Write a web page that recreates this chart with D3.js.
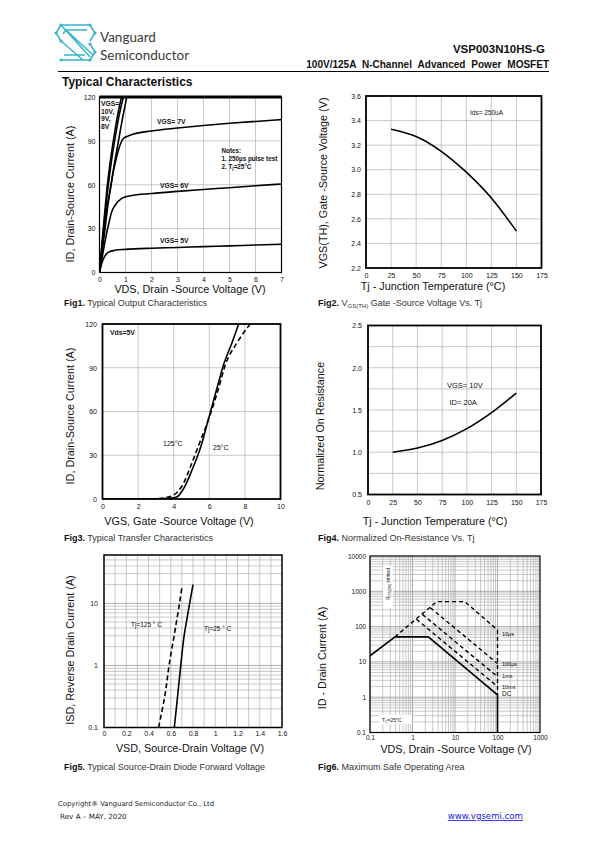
<!DOCTYPE html>
<html><head><meta charset="utf-8">
<script src="https://cdn.jsdelivr.net/npm/d3@7"></script>
<style>
body{margin:0;background:#fff;}
svg{display:block;}
</style></head><body>
<svg id="page" width="595" height="842"></svg>
<script>
// ================= DATA =================
// Fig1 – Typical Output Characteristics
const fig1XTicks = [0,1,2,3,4,5,6,7];
const fig1YTicks = [0,30,60,90,120];
const fig1XGrid = [1,2,3,4,5,6];
const fig1YGrid = [30,60,90];
const fig1Vgs10V = [0,0.1,0.2,0.28,0.4,0.55,0.7,0.85];
const fig1Vgs10I = [0,21,41,56,74,92,108,120];
const fig1Vgs9V  = [0,0.1,0.2,0.3,0.45,0.6,0.75,0.92];
const fig1Vgs9I  = [0,19,37,54,75,92,107,120];
const fig1Vgs8V  = [0,0.1,0.2,0.3,0.41,0.55,0.7,0.85,1.05];
const fig1Vgs8I  = [0,17,33,46,56,72,87,102,120];
const fig1Vgs7V  = [0,0.1,0.2,0.35,0.5,0.6,0.75,0.92,1.2,2,3,4,5,6,7];
const fig1Vgs7I  = [0,14,28,49.5,66,74.5,85,91.6,94,96.8,98.8,100.5,102,103.3,104.5];
const fig1Vgs6V  = [0,0.1,0.22,0.35,0.47,0.6,0.86,1.2,2,3,4,5,6,7];
const fig1Vgs6I  = [0,10,22,33,41.6,46,50.7,52.5,54,55.5,56.8,58,59.3,60.5];
const fig1Vgs5V  = [0,0.1,0.2,0.35,0.6,1,2,3,4,5,6,7];
const fig1Vgs5I  = [0,7,11,13.9,15.2,15.8,16.6,17.1,17.7,18.2,18.8,19.3];

// Fig2 – VGS(TH) vs Tj
const fig2XTicks = [0,25,50,75,100,125,150,175];
const fig2YTicks = [2.2,2.4,2.6,2.8,3.0,3.2,3.4,3.6];
const fig2YLabels = ['2.2','2.4','2.6','2.8','3.0','3.2','3.4','3.6'];
const fig2XGrid = [25,50,75,100,125,150];
const fig2YGrid = [2.4,2.6,2.8,3.0,3.2,3.4];
const fig2Tj  = [25,50,75,100,125,150];
const fig2Vth = [3.33,3.27,3.15,2.98,2.77,2.50];

// Fig3 – Transfer Characteristics
const fig3XTicks = [0,2,4,6,8,10];
const fig3YTicks = [0,30,60,90,120];
const fig3XGrid = [2,4,6,8];
const fig3YGrid = [30,60,90];
const fig3T25V  = [0,1,2,3,3.5,4,4.2,4.5,4.64,5,5.2,5.5,6,6.5,6.8,7.27,7.65];
const fig3T25I  = [0,0,0,0.1,0.3,0.8,1.5,6,9,19,25,35,57,79,92,107,120];
const fig3T125V = [0,2.8,3,3.5,4,4.5,5,5.5,6,6.5,6.9,7.55,8.3];
const fig3T125I = [0,0,0.2,0.8,2.7,9.6,24,40,56,75,92,107,120];

// Fig4 – Normalized On-Resistance vs Tj
const fig4XTicks = [0,25,50,75,100,125,150,175];
const fig4YTicks = [0.5,1.0,1.5,2.0,2.5];
const fig4YLabels = ['0.5','1.0','1.5','2.0','2.5'];
const fig4XGrid = [25,50,75,100,125,150];
const fig4YGrid = [0.75,1.0,1.25,1.5,1.75,2.0,2.25];
const fig4Tj  = [25,50,75,100,125,150];
const fig4Ron = [1.0,1.05,1.14,1.28,1.47,1.70];

// Fig5 – Source-Drain Diode Forward Voltage
const fig5XTicks = [0,0.2,0.4,0.6,0.8,1.0,1.2,1.4,1.6];
const fig5XLabels = ['0','0.2','0.4','0.6','0.8','1','1.2','1.4','1.6'];
const fig5YTicks = [0.1,1,10];
const fig5YLabels = ['0.1','1','10'];
const fig5XGrid = [0.1,0.2,0.3,0.4,0.5,0.6,0.7,0.8,0.9,1.0,1.1,1.2,1.3,1.4,1.5];
const fig5YGrid = [0.2,0.3,0.4,0.5,0.6,0.7,0.8,0.9,1,2,3,4,5,6,7,8,9,10,20,30,40,50];
const fig5T25V  = [0.632,0.66,0.69,0.72,0.755,0.77,0.8];
const fig5T25I  = [0.1,0.3,1,3,7,10,20];
const fig5T125V = [0.49,0.55,0.585,0.63,0.67,0.70];
const fig5T125I = [0.1,0.35,1,3,8,18];

// Fig6 – Maximum Safe Operating Area
const fig6XTicks = [0.1,1,10,100,1000];
const fig6XLabels = ['0.1','1','10','100','1000'];
const fig6YTicks = [0.1,1,10,100,1000,10000];
const fig6YLabels = ['0.1','1','10','100','1000','10000'];
const fig6Mant = [1,2,3,4,5,6,7,8,9];
const fig6DCV   = [0.1,0.387,2.36,100,100];
const fig6DCI   = [14.8,51,51,1.16,0.1];
const fig6P10usV = [0.387,3.7,17,100,100];
const fig6P10usI = [51,510,510,80,1.16];
const fig6P100usV = [2.63,100];
const fig6P100usI = [342,9];
const fig6P1msV = [1.71,100];
const fig6P1msI = [222,3.8];
const fig6P10msV = [1.24,100];
const fig6P10msI = [161,2.0];
const fig6Labels = ['10µs','100µs','1ms','10ms','DC'];
const fig6LabelI = [62,8.8,3.9,2.0,1.2];

// ================= DRAWING =================
const svg = d3.select('#page');
const NARROW = "'Liberation Sans Narrow','Arial Narrow','Liberation Sans',Arial,sans-serif";
const SANS = "'Liberation Sans',Arial,Helvetica,sans-serif";
const GRID = '#b2b2b2';
const TITLE = 10.8;
const CAP = 9;

function txt(x, y, s, o = {}) {
  const t = svg.append('text').attr('x', x).attr('y', y)
    .attr('font-family', o.family || SANS).attr('font-size', o.size || 9)
    .attr('font-weight', o.weight || 'normal').attr('fill', o.fill || '#111')
    .attr('text-anchor', o.anchor || 'start').text(s);
  if (o.rotate) t.attr('transform', `rotate(-90,${x},${y})`);
  return t;
}

function panel(c) {
  const g = svg.append('g');
  const x = (c.xLog ? d3.scaleLog() : d3.scaleLinear()).domain(c.xDomain).range([c.left, c.right]);
  const y = (c.yLog ? d3.scaleLog() : d3.scaleLinear()).domain(c.yDomain).range([c.bottom, c.top]);
  g.append('g').selectAll('line').data(c.xGrid).join('line')
    .attr('x1', d => x(d)).attr('x2', d => x(d)).attr('y1', c.top).attr('y2', c.bottom)
    .attr('stroke', d => (c.xMajor && c.xMajor.includes(d)) ? '#8a8a8a' : GRID).attr('stroke-width', 0.7);
  g.append('g').selectAll('line').data(c.yGrid).join('line')
    .attr('y1', d => y(d)).attr('y2', d => y(d)).attr('x1', c.left).attr('x2', c.right)
    .attr('stroke', d => (c.yMajor && c.yMajor.includes(d)) ? '#8a8a8a' : GRID).attr('stroke-width', 0.7);
  const ax = g.append('g').attr('transform', `translate(0,${c.bottom})`)
    .call(d3.axisBottom(x).tickValues(c.xTicks).tickSize(0).tickPadding(c.xPad || 5)
      .tickFormat((d, i) => c.xLabels ? c.xLabels[i] : String(d)));
  const ay = g.append('g').attr('transform', `translate(${c.left},0)`)
    .call(d3.axisLeft(y).tickValues(c.yTicks).tickSize(0).tickPadding(c.yPad || 5)
      .tickFormat((d, i) => c.yLabels ? c.yLabels[i] : String(d)));
  [ax, ay].forEach(a => {
    a.select('.domain').remove();
    a.selectAll('text').attr('font-family', NARROW).attr('font-size', c.tickSize || 7).attr('fill', '#111');
  });
  const id = 'clip' + c.id;
  g.append('clipPath').attr('id', id).append('rect')
    .attr('x', c.left).attr('y', c.top).attr('width', c.right - c.left).attr('height', c.bottom - c.top);
  const plot = g.append('g').attr('clip-path', `url(#${id})`);
  g.append('rect').attr('x', c.left).attr('y', c.top)
    .attr('width', c.right - c.left).attr('height', c.bottom - c.top)
    .attr('fill', 'none').attr('stroke', '#000').attr('stroke-width', c.border || 1.5);
  return { g, x, y, plot };
}

function curve(p, xs, ys, o = {}) {
  const line = d3.line().x(d => p.x(d[0])).y(d => p.y(d[1]))
    .curve(o.curve || d3.curveMonotoneX);
  p.plot.append('path').datum(d3.zip(xs, ys)).attr('d', line)
    .attr('fill', 'none').attr('stroke', '#000').attr('stroke-width', o.w || 1.6)
    .attr('stroke-dasharray', o.dash || null).attr('stroke-linejoin', 'round');
}

function caption(x, y, fig, rest) {
  const c = txt(x, y, fig, { size: CAP, weight: 'bold' });
  c.append('tspan').attr('font-weight', 'normal').attr('fill', '#333').text(rest);
  return c;
}

// ---------- header ----------
const LOGO = '#34b4c8';
const logoLines = [
  'M61,25 L90,25', 'M66,30 L87,30', 'M61,25 L56,33 L61,41', 'M66,30 L63,34',
  'M61,25 L90,57', 'M66,30 L93,55', 'M61,41 L83,60',
  'M61,60 L90,60', 'M64,55 L85,55', 'M90,60 L95,52 L90,44', 'M90,25 L95,33 L90,41'
];
svg.append('g').selectAll('path').data(logoLines).join('path').attr('d', d => d)
  .attr('fill', 'none').attr('stroke', LOGO).attr('stroke-width', 1.5);
svg.append('g').selectAll('circle').data([[61,25],[90,25],[56,33],[61,41],[95,52],[90,60],[61,60],[95,33],[90,44]]).join('circle')
  .attr('cx', d => d[0]).attr('cy', d => d[1]).attr('r', 1.6).attr('fill', LOGO);
txt(100, 42, 'Vanguard', { family: "Lato,'Open Sans',sans-serif", size: 13.5, fill: '#3a3a3a' });
txt(100, 59.5, 'Semiconductor', { family: "Lato,'Open Sans',sans-serif", size: 13.5, fill: '#3a3a3a' });
txt(545, 53, 'VSP003N10HS-G', { weight: 'bold', size: 11.5, anchor: 'end' });
txt(549, 68, '100V/125A N-Channel Advanced Power MOSFET', { weight: 'bold', size: 10, anchor: 'end' })
  .attr('word-spacing', 3.2);
svg.append('line').attr('x1', 58).attr('x2', 549).attr('y1', 71.5).attr('y2', 71.5)
  .attr('stroke', '#000').attr('stroke-width', 1);
txt(62, 86, 'Typical Characteristics', { weight: 'bold', size: 12 });

// ---------- Fig1 ----------
const p1 = panel({ id: 1, left: 99.5, right: 281.5, top: 97, bottom: 272.5,
  xDomain: [0, 7], yDomain: [0, 120], xTicks: fig1XTicks, yTicks: fig1YTicks,
  xGrid: fig1XGrid, yGrid: fig1YGrid, border: 1.2, yPad: 4 });
p1.g.append('line').attr('x1', 99.5).attr('x2', 281.5).attr('y1', 97).attr('y2', 97)
  .attr('stroke', '#000').attr('stroke-width', 3);
[[fig1Vgs10V, fig1Vgs10I], [fig1Vgs9V, fig1Vgs9I], [fig1Vgs8V, fig1Vgs8I],
 [fig1Vgs7V, fig1Vgs7I], [fig1Vgs6V, fig1Vgs6I], [fig1Vgs5V, fig1Vgs5I]]
  .forEach(s => curve(p1, s[0], s[1]));
const n1 = { family: NARROW, size: 6.8, weight: 'bold' };
const n2 = { family: NARROW, size: 6.3, weight: 'bold' };
txt(101, 106, 'VGS=', n1); txt(101, 113.5, '10V,', n1); txt(101, 121, '9V,', n1); txt(101, 128.5, '8V', n1);
txt(157, 123.5, 'VGS= 7V', n1); txt(160, 187.5, 'VGS= 6V', n1); txt(160, 243, 'VGS= 5V', n1);
txt(221.5, 152.5, 'Notes:', n2); txt(221.5, 160.5, '1. 250µs pulse test', n2);
const t1 = txt(221.5, 168.5, '2. T', n2);
t1.append('tspan').attr('font-size', 4.5).attr('dy', 1.5).text('j');
t1.append('tspan').attr('dy', -1.5).text('=25°C');
txt(190, 293, 'VDS, Drain -Source Voltage (V)', { size: TITLE, anchor: 'middle' });
txt(74, 194, 'ID, Drain-Source Current (A)', { size: TITLE, anchor: 'middle', rotate: true });
caption(64, 306, 'Fig1.', ' Typical Output Characteristics');

// ---------- Fig2 ----------
const p2 = panel({ id: 2, left: 366, right: 541.5, top: 96, bottom: 268,
  xDomain: [0, 175], yDomain: [2.2, 3.6], xTicks: fig2XTicks, yTicks: fig2YTicks, yLabels: fig2YLabels,
  xGrid: fig2XGrid, yGrid: fig2YGrid, border: 1.8, yPad: 5, xPad: 5 });
curve(p2, fig2Tj, fig2Vth);
txt(470, 115, 'Ids= 250uA', { family: NARROW, size: 6.5 });
txt(433, 289.5, 'Tj - Junction Temperature (°C)', { size: TITLE, anchor: 'middle' });
txt(327, 183, 'VGS(TH), Gate -Source Voltage (V)', { size: TITLE, anchor: 'middle', rotate: true });
const c2 = txt(318, 306, 'Fig2.', { size: CAP, weight: 'bold' });
c2.append('tspan').attr('font-weight', 'normal').attr('fill', '#333').text(' V');
c2.append('tspan').attr('font-weight', 'normal').attr('fill', '#333').attr('font-size', 6).attr('dy', 1.5).text('GS(TH)');
c2.append('tspan').attr('font-weight', 'normal').attr('fill', '#333').attr('dy', -1.5).text(' Gate -Source Voltage Vs. Tj');

// ---------- Fig3 ----------
const p3 = panel({ id: 3, left: 102.5, right: 280.5, top: 324, bottom: 499,
  xDomain: [0, 10], yDomain: [0, 120], xTicks: fig3XTicks, yTicks: fig3YTicks,
  xGrid: fig3XGrid, yGrid: fig3YGrid, border: 1.8, yPad: 5.5, xPad: 5 });
curve(p3, fig3T25V, fig3T25I);
curve(p3, fig3T125V, fig3T125I, { dash: '5,3' });
txt(110, 335, 'Vds=5V', { family: NARROW, size: 6.8, weight: 'bold' });
txt(163, 445.5, '125°C', { family: NARROW, size: 7 });
txt(213, 449.5, '25°C', { family: NARROW, size: 7 });
txt(179, 525, 'VGS, Gate -Source Voltage (V)', { size: TITLE, anchor: 'middle' });
txt(74, 416, 'ID, Drain-Source Current (A)', { size: TITLE, anchor: 'middle', rotate: true });
caption(64, 541, 'Fig3.', ' Typical Transfer Characteristics');

// ---------- Fig4 ----------
const p4 = panel({ id: 4, left: 368, right: 541, top: 325.5, bottom: 494.5,
  xDomain: [0, 175], yDomain: [0.5, 2.5], xTicks: fig4XTicks, yTicks: fig4YTicks, yLabels: fig4YLabels,
  xGrid: fig4XGrid, yGrid: fig4YGrid, border: 1.8, yPad: 6, xPad: 6 });
curve(p4, fig4Tj, fig4Ron);
txt(447, 388, 'VGS= 10V', { family: NARROW, size: 7.5 });
txt(449.5, 404.5, 'ID= 20A', { family: NARROW, size: 7.5 });
txt(435, 525, 'Tj - Junction Temperature (°C)', { size: TITLE, anchor: 'middle' });
txt(324, 426, 'Normalized On Resistance', { size: TITLE, anchor: 'middle', rotate: true });
caption(318, 541, 'Fig4.', ' Normalized On-Resistance Vs. Tj');

// ---------- Fig5 ----------
const p5 = panel({ id: 5, left: 104, right: 282, top: 555, bottom: 727.5, yLog: true,
  xDomain: [0, 1.6], yDomain: [0.1, 60], xTicks: fig5XTicks, xLabels: fig5XLabels,
  yTicks: fig5YTicks, yLabels: fig5YLabels, xGrid: fig5XGrid, yGrid: fig5YGrid,
  yMajor: [1, 10], border: 1.5, yPad: 6, xPad: 4 });
curve(p5, fig5T25V, fig5T25I, { curve: d3.curveMonotoneY });
curve(p5, fig5T125V, fig5T125I, { dash: '5,3', curve: d3.curveMonotoneY });
txt(131, 627, 'Tj=125 ° C', { family: NARROW, size: 6.5 });
txt(204, 631, 'Tj=25 ° C', { family: NARROW, size: 6.5 });
txt(190, 752, 'VSD, Source-Drain Voltage (V)', { size: TITLE, anchor: 'middle' });
txt(74, 650, 'ISD, Reverse Drain Current (A)', { size: TITLE, anchor: 'middle', rotate: true });
caption(64, 770, 'Fig5.', ' Typical Source-Drain Diode Forward Voltage');

// ---------- Fig6 ----------
const fig6XGrid = [], fig6YGrid = [];
[0.1, 1, 10, 100].forEach(dec => fig6Mant.forEach(m => fig6XGrid.push(+(m * dec).toPrecision(3))));
[0.1, 1, 10, 100, 1000].forEach(dec => fig6Mant.forEach(m => fig6YGrid.push(+(m * dec).toPrecision(3))));
const p6 = panel({ id: 6, xLog: true, yLog: true, left: 370, right: 540, top: 556, bottom: 732.5,
  xDomain: [0.1, 1000], yDomain: [0.1, 10000], xTicks: fig6XTicks, xLabels: fig6XLabels,
  yTicks: fig6YTicks, yLabels: fig6YLabels, xGrid: fig6XGrid, yGrid: fig6YGrid,
  xMajor: fig6XTicks, yMajor: fig6YTicks, border: 1.2, yPad: 4, xPad: 3, tickSize: 6.5 });
const lin = d3.curveLinear;
curve(p6, fig6DCV, fig6DCI, { curve: lin, w: 1.7 });
curve(p6, fig6P10usV, fig6P10usI, { curve: lin, dash: '4,3', w: 1.4 });
curve(p6, fig6P100usV, fig6P100usI, { curve: lin, dash: '4,3', w: 1.4 });
curve(p6, fig6P1msV, fig6P1msI, { curve: lin, dash: '4,3', w: 1.4 });
curve(p6, fig6P10msV, fig6P10msI, { curve: lin, dash: '4,3', w: 1.4 });
p6.g.selectAll('text.pl').data(fig6Labels).join('text').attr('class', 'pl')
  .attr('x', 502).attr('y', (d, i) => p6.y(fig6LabelI[i]) + 2)
  .attr('font-family', NARROW).attr('font-size', (d, i) => i === 4 ? 6.5 : 5.5).attr('fill', '#111')
  .text(d => d);
p6.g.append('rect').attr('x', 383).attr('y', 566).attr('width', 10).attr('height', 42).attr('fill', '#fff');
const rl = p6.g.append('text').attr('transform', 'translate(390,600) rotate(-90)')
  .attr('font-family', NARROW).attr('font-size', 5).attr('fill', '#111').text('R');
rl.append('tspan').attr('font-size', 3.5).attr('dy', 1).text('DS(ON)');
rl.append('tspan').attr('dy', -1).text(' limited');
p6.g.append('rect').attr('x', 379).attr('y', 715).attr('width', 33).attr('height', 9).attr('fill', '#fff');
const tc = p6.g.append('text').attr('x', 382).attr('y', 722)
  .attr('font-family', NARROW).attr('font-size', 5).attr('fill', '#111').text('T');
tc.append('tspan').attr('font-size', 3.5).attr('dy', 1).text('C');
tc.append('tspan').attr('dy', -1).text('=25°C');
txt(456, 753, 'VDS, Drain -Source Voltage (V)', { size: TITLE, anchor: 'middle' });
txt(326, 658, 'ID - Drain Current (A)', { size: TITLE, anchor: 'middle', rotate: true });
caption(318, 770, 'Fig6.', ' Maximum Safe Operating Area');

// ---------- footer ----------
const FOOT = "'DejaVu Sans',Verdana,sans-serif";
txt(58, 806, 'Copyright® Vanguard Semiconductor Co., Ltd', { family: FOOT, size: 6.8, fill: '#222' });
txt(60, 819, 'Rev A – MAY, 2020', { family: FOOT, size: 7.2, fill: '#222' });
txt(523, 819, 'www.vgsemi.com', { family: FOOT, size: 8.6, fill: '#1a1aee', anchor: 'end' })
  .attr('text-decoration', 'underline');
</script>
</body></html>
